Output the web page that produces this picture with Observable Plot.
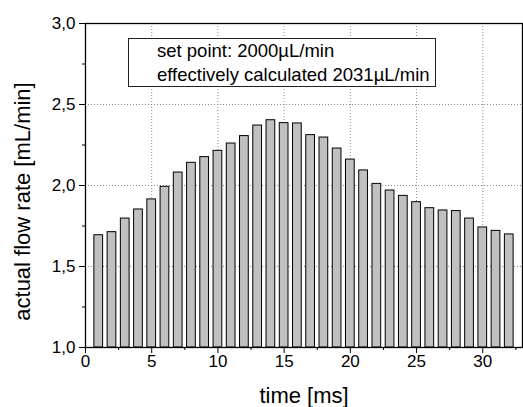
<!DOCTYPE html>
<html>
<head>
<meta charset="utf-8">
<script src="https://cdn.jsdelivr.net/npm/d3@7"></script>
<script src="https://cdn.jsdelivr.net/npm/@observablehq/plot@0.6"></script>
<style>
  body { margin: 0; background: #fff; }
  #wrap { position: relative; width: 523px; height: 407px; font-family: Arial, "Liberation Sans", sans-serif; }
  #legend {
    position: absolute; left: 128px; top: 38px; width: 308px; height: 49px;
    box-sizing: border-box; border: 1px solid #222; background: #fff;
    padding-left: 28px; font-size: 18.5px; line-height: 24px; color: #000; white-space: nowrap;
  }
</style>
</head>
<body>
<div id="wrap"><div id="legend"></div></div>
<script>
// ---- data ----
const time = [1,2,3,4,5,6,7,8,9,10,11,12,13,14,15,16,17,18,19,20,21,22,23,24,25,26,27,28,29,30,31,32];
const flow = [1.693,1.712,1.796,1.852,1.914,1.992,2.080,2.140,2.175,2.214,2.259,2.305,2.370,2.403,2.385,2.383,
              2.311,2.296,2.228,2.160,2.093,2.010,1.969,1.936,1.897,1.860,1.846,1.842,1.796,1.741,1.720,1.698];
const xTicks = [0,5,10,15,20,25,30];
const xMinor = [2.5,7.5,12.5,17.5,22.5,27.5,32.5];
const yTicks = [1.0,1.5,2.0,2.5,3.0];
const yMinor = [1.25,1.75,2.25,2.75];
const xGrid = [5,10,15,20,25,30];
const yGrid = [1.5,2.0,2.5];
const xDomain = [0,33];
const yDomain = [1,3];
const legendLines = ["set point: 2000µL/min", "effectively calculated 2031µL/min"];
const xTitle = "time [ms]";
const yTitle = "actual flow rate [mL/min]";
const barHalf = 0.33;

// ---- chart ----
const data = time.map((t, i) => ({t, v: flow[i]}));
const fmt = d => d.toFixed(1).replace(".", ",");

const chart = Plot.plot({
  width: 523, height: 407,
  marginLeft: 85, marginRight: 1, marginTop: 23, marginBottom: 60,
  style: {fontFamily: "Arial, 'Liberation Sans', sans-serif", fontSize: "17px", color: "#000", background: "#fff", overflow: "visible"},
  x: {domain: xDomain},
  y: {domain: yDomain},
  marks: [
    Plot.ruleX(xGrid, {stroke: "#8a8a8a", strokeDasharray: "1,2", strokeWidth: 1}),
    Plot.ruleY(yGrid, {stroke: "#8a8a8a", strokeDasharray: "1,2", strokeWidth: 1}),
    Plot.rectY(data, {x1: d => d.t - barHalf, x2: d => d.t + barHalf, y1: yDomain[0], y2: "v",
                      fill: "#c0c0c0", stroke: "#000", strokeWidth: 1}),
    Plot.frame({stroke: "#000", strokeWidth: 1.3}),
    Plot.axisY(yTicks, {tickSize: 6, tickPadding: 4, tickFormat: fmt, label: null, fontSize: 17, stroke: "#000"}),
    Plot.axisY(yMinor, {tickSize: 3, tickFormat: () => "", label: null, stroke: "#000"}),
    Plot.axisX(xTicks, {tickSize: 6, tickPadding: 1, label: null, fontSize: 17, stroke: "#000"}),
    Plot.axisX(xMinor, {tickSize: 3, tickFormat: () => "", label: null, stroke: "#000"}),
    Plot.text([yTitle], {text: d => d, frameAnchor: "left", textAnchor: "middle", lineAnchor: "middle",
                         rotate: -90, dx: -63, dy: 16, fontSize: 22, fill: "#000"}),
    Plot.text([xTitle], {text: d => d, frameAnchor: "bottom", textAnchor: "middle", lineAnchor: "middle",
                         dy: 48, fontSize: 22, fill: "#000"})
  ]
});
document.getElementById("wrap").prepend(chart);
document.getElementById("legend").innerHTML = legendLines.map(s => `<div>${s}</div>`).join("");
</script>
</body>
</html>
